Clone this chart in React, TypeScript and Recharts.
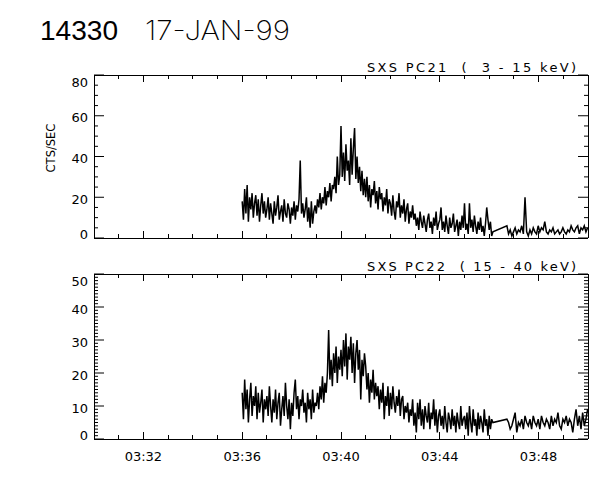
import React from 'react';
import { LineChart, Line, XAxis, YAxis } from 'recharts';

// time grid of the two recorded segments (hh:mm:ss) and their sample step in seconds
const DENSE_START = '03:36:00';
const DENSE_STEP = 3;
const SPARSE_START = '03:46:43';
const SPARSE_STEP = 4;

const TIME_RANGE = ['03:30:00', '03:50:00'];
const TIME_LABELS = ['03:32', '03:36', '03:40', '03:44', '03:48'];
const TIME_MINOR_STEP = 60;

const PC21_LABELS = [0, 20, 40, 60, 80];
const PC21_MINOR_STEP = 5;
const PC22_LABELS = [0, 10, 20, 30, 40, 50];
const PC22_MINOR_STEP = 1;

// SXS PC21 (3 - 15 keV), cts/sec, one row per minute from 03:36
const PC21_DENSE = [
  18, 9, 24, 12, 26, 8, 20, 14, 22, 10, 17, 21, 11, 19, 8, 16, 22, 12, 18, 10,
  14, 20, 9, 17, 12, 7, 18, 11, 15, 21, 9, 13, 16, 8, 19, 12, 10, 17, 14, 7,
  15, 11, 18, 9, 16, 13, 19, 38, 12, 17, 10, 14, 20, 8, 15, 5, 18, 7, 13, 16,
  12, 19, 15, 22, 14, 20, 17, 25, 16, 23, 20, 27, 18, 26, 24, 30, 22, 40, 26, 31,
  55, 30, 42, 28, 46, 33, 38, 26, 49, 31, 44, 54, 29, 40, 27, 35, 23, 33, 21, 29,
  20, 30, 18, 26, 15, 24, 21, 28, 17, 23, 14, 25, 19, 22, 13, 20, 16, 24, 12, 19,
  17, 11, 21, 13, 9, 18, 15, 22, 10, 16, 12, 19, 8, 14, 17, 7, 13, 10, 16, 9,
  12, 6, 10, 4, 13, 8, 5, 11, 7, 3, 9, 12, 5, 8, 2, 10, 6, 13, 4, 7,
  9, 15, 4, 8, 3, 11, 6, 2, 10, 5, 7, 12, 3, 6, 9, 1, 8, 4, 11, 5,
  17, 4, 7, 2, 17, 5, 9, 3, 11, 6, 2, 8, 4, 10, 3, 6, 1, 7, 15, 9,
  4, 8, 1, 3,
];
const PC21_SPARSE = [
  6, 2, 4, 1, 3, 5, 2, 4, 3, 6, 2, 20, 3, 1, 4, 2, 5, 3, 2, 6,
  3, 5, 4, 8, 3, 2, 4, 3, 5, 2, 3, 4, 2, 3, 5, 3, 2, 4, 3, 6,
  4, 3, 5, 6, 2, 5, 4, 6, 3, 5,
];

// SXS PC22 (15 - 40 keV)
const PC22_DENSE = [
  14, 6, 18, 9, 15, 5, 12, 17, 7, 13, 10, 16, 6, 14, 8, 11, 15, 5, 12, 9,
  13, 7, 16, 10, 5, 12, 8, 15, 6, 11, 14, 4, 9, 13, 7, 17, 10, 6, 12, 3,
  11, 7, 14, 18, 9, 13, 6, 12, 10, 15, 8, 11, 5, 14, 9, 12, 6, 15, 8, 11,
  10, 14, 9, 16, 12, 19, 11, 17, 14, 20, 33, 18, 24, 16, 26, 20, 28, 17, 25, 21,
  27, 19, 30, 22, 32, 18, 28, 24, 31, 20, 29, 17, 26, 30, 21, 27, 12, 24, 19, 26,
  22, 15, 20, 11, 18, 14, 21, 12, 17, 13, 16, 9, 15, 11, 17, 6, 13, 10, 16, 7,
  14, 9, 16, 11, 8, 13, 10, 15, 7, 12, 13, 6, 10, 8, 11, 5, 9, 7, 12, 4,
  8, 2, 11, 6, 12, 4, 9, 3, 10, 7, 5, 11, 3, 8, 6, 12, 4, 9, 2, 7,
  9, 4, 7, 3, 10, 5, 2, 8, 6, 3, 9, 4, 7, 2, 8, 5, 3, 10, 4, 6,
  7, 3, 8, 1, 10, 5, 2, 9, 4, 6, 1, 8, 3, 7, 5, 2, 9, 4, 6, 1,
  7, 3, 6, 5,
];
const PC22_SPARSE = [
  6, 5, 3, 4, 6, 8, 2, 5, 4, 6, 3, 7, 5, 4, 6, 3, 7, 5, 4, 6,
  3, 7, 5, 4, 6, 5, 3, 7, 4, 6, 5, 8, 4, 3, 6, 5, 7, 4, 6, 5,
  2, 6, 9, 4, 7, 3, 8, 4, 6, 9,
];

const FONT = "'DejaVu Sans', sans-serif";

function toSec(s: string) {
  const [h, m, sec] = s.split(':').map(Number);
  return h * 3600 + m * 60 + (sec || 0);
}

function buildSeries(dense: number[], sparse: number[]) {
  const d0 = toSec(DENSE_START);
  const s0 = toSec(SPARSE_START);
  return [
    ...dense.map((v, i) => ({ t: d0 + i * DENSE_STEP, v })),
    ...sparse.map((v, i) => ({ t: s0 + i * SPARSE_STEP, v })),
  ];
}

function range(lo: number, hi: number, step: number) {
  const out: number[] = [];
  for (let v = lo; v <= hi; v += step) out.push(v);
  return out;
}

const T_DOMAIN = TIME_RANGE.map(toSec);
const T_TICKS = range(T_DOMAIN[0], T_DOMAIN[1], TIME_MINOR_STEP);
const T_MAJORS = TIME_LABELS.map(toSec);

// inward IDL-style ticks: long for majors, short for minors, label on majors
function AxisTick(props: any) {
  const { x, y, payload, side, majors, labels, majorLen, minorLen, lo, hi } = props;
  const px = Number(x);
  const py = Number(y);
  const k = majors.indexOf(payload.value);
  const len = k >= 0 ? majorLen : minorLen;
  const dir = side === 'bottom' || side === 'right' ? -1 : 1;
  const horiz = side === 'bottom' || side === 'top';
  let text = null;
  if (labels && k >= 0) {
    if (side === 'bottom') {
      text = (
        <text x={px} y={py + 17} textAnchor="middle" dominantBaseline="central"
          fontFamily={FONT} fontSize={13} fill="#000">{labels[k]}</text>
      );
    } else if (side === 'left') {
      const ty = Math.min(Math.max(py + 2, lo), hi);
      text = (
        <text x={px - 6} y={ty} textAnchor="end" dominantBaseline="central"
          fontFamily={FONT} fontSize={13} fill="#000">{labels[k]}</text>
      );
    }
  }
  return (
    <g>
      {horiz ? (
        <line x1={px} x2={px} y1={py} y2={py + dir * len} stroke="#000" shapeRendering="crispEdges" />
      ) : (
        <line x1={px} x2={px + dir * len} y1={py} y2={py} stroke="#000" />
      )}
      {text}
    </g>
  );
}

interface PanelProps {
  top: number;
  height: number;
  margin: { top: number; right: number; bottom: number; left: number };
  data: { t: number; v: number }[];
  yLabels: number[];
  yMinor: number;
  timeLabels: boolean;
}

function Panel({ top, height, margin, data, yLabels, yMinor, timeLabels }: PanelProps) {
  const yMax = yLabels[yLabels.length - 1];
  const yTicks = range(0, yMax, yMinor);
  const bottomAxisH = timeLabels ? 30 : 1;
  const plotTop = top + margin.top + 1;
  const plotBottom = top + height - margin.bottom - bottomAxisH;
  const xTickProps = { majors: T_MAJORS, majorLen: 7, minorLen: 4 };
  const yTickProps = {
    majors: yLabels,
    majorLen: 10,
    minorLen: 4,
    lo: plotTop + 7 - top,
    hi: plotBottom - 4 - top,
  };
  const axisLine = { stroke: '#000', shapeRendering: 'crispEdges' };
  return (
    <div style={{ position: 'absolute', left: 0, top }}>
      <LineChart width={600} height={height} data={data} margin={margin}>
        <XAxis xAxisId="b" orientation="bottom" type="number" dataKey="t"
          domain={T_DOMAIN} allowDataOverflow ticks={T_TICKS} interval={0}
          height={bottomAxisH} tickSize={0} tickMargin={0} tickLine={false}
          axisLine={axisLine}
          tick={<AxisTick side="bottom" labels={timeLabels ? TIME_LABELS : null} {...xTickProps} />} />
        <XAxis xAxisId="t" orientation="top" type="number" dataKey="t"
          domain={T_DOMAIN} allowDataOverflow ticks={T_TICKS} interval={0}
          height={1} tickSize={0} tickMargin={0} tickLine={false}
          axisLine={axisLine}
          tick={<AxisTick side="top" labels={null} {...xTickProps} />} />
        <YAxis yAxisId="l" orientation="left" type="number" domain={[0, yMax]}
          allowDataOverflow ticks={yTicks} interval={0} width={40}
          tickSize={0} tickMargin={0} tickLine={false} axisLine={axisLine}
          tick={<AxisTick side="left" labels={yLabels} {...yTickProps} />} />
        <YAxis yAxisId="r" orientation="right" type="number" domain={[0, yMax]}
          allowDataOverflow ticks={yTicks} interval={0} width={1}
          tickSize={0} tickMargin={0} tickLine={false} axisLine={axisLine}
          tick={<AxisTick side="right" labels={null} {...yTickProps} />} />
        <Line xAxisId="b" yAxisId="l" type="linear" dataKey="v" stroke="#000"
          strokeWidth={1.5} dot={false} activeDot={false} isAnimationActive={false} />
        {/* same series on the mirrored axes so the top/right box sides are drawn */}
        <Line xAxisId="t" yAxisId="r" type="linear" dataKey="v" stroke="none"
          dot={false} activeDot={false} isAnimationActive={false} />
      </LineChart>
    </div>
  );
}

export default function App() {
  const pc21 = buildSeries(PC21_DENSE, PC21_SPARSE);
  const pc22 = buildSeries(PC22_DENSE, PC22_SPARSE);
  return (
    <div style={{ position: 'absolute', left: 0, top: 0, width: 600, height: 480, background: '#fff' }}>
      <Panel top={60} height={190} margin={{ top: 14, right: 11, bottom: 11, left: 54 }}
        data={pc21} yLabels={PC21_LABELS} yMinor={PC21_MINOR_STEP} timeLabels={false} />
      <Panel top={260} height={220} margin={{ top: 13, right: 11, bottom: 11, left: 54 }}
        data={pc22} yLabels={PC22_LABELS} yMinor={PC22_MINOR_STEP} timeLabels />
      <svg width={600} height={480} style={{ position: 'absolute', left: 0, top: 0, pointerEvents: 'none' }}>
        <text x={40} y={40} fontFamily="'Liberation Sans', Arial, sans-serif" fontSize={28}
          textLength={78} lengthAdjust="spacingAndGlyphs" fill="#000">14330</text>
        <text x={145} y={40} fontFamily="Inter, 'DejaVu Sans', sans-serif" fontWeight={200} fontSize={27}
          textLength={145} lengthAdjust="spacingAndGlyphs" fill="#000">17-JAN-99</text>
        <text x={367} y={72} fontFamily={FONT} fontSize={13} textLength={209}
          style={{ whiteSpace: 'pre' }} fill="#000">SXS PC21  (  3 - 15 keV)</text>
        <text x={367} y={271} fontFamily={FONT} fontSize={13} textLength={209}
          style={{ whiteSpace: 'pre' }} fill="#000">SXS PC22  ( 15 - 40 keV)</text>
        <text x={51} y={148} transform="rotate(-90 51 148)" textAnchor="middle" dominantBaseline="central"
          fontFamily={FONT} fontSize={11.5} fill="#000">CTS/SEC</text>
      </svg>
    </div>
  );
}
